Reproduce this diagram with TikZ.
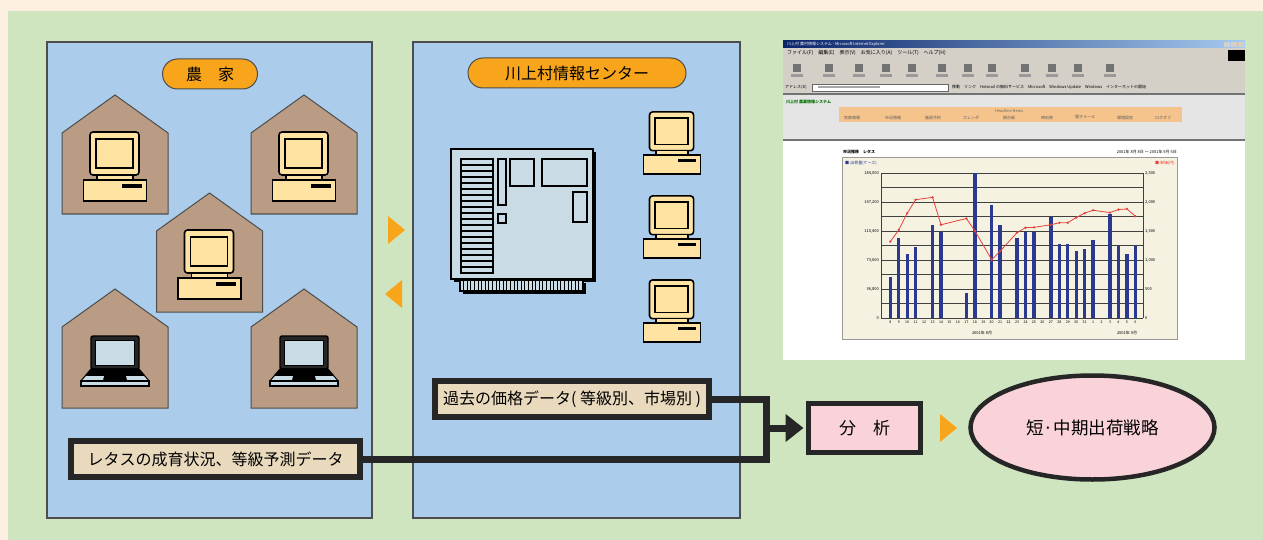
\documentclass[tikz,border=0pt]{standalone}
\usepackage{fontspec}
\setmainfont{Noto Sans CJK JP}
\usetikzlibrary{arrows.meta,shapes.geometric,positioning}

\definecolor{bgpeach}{HTML}{FDF0E0}
\definecolor{bggreen}{HTML}{CFE5C0}
\definecolor{panelblue}{HTML}{ABCDEB}
\definecolor{tagorange}{HTML}{F9A51B}
\definecolor{housebrown}{HTML}{B99C83}
\definecolor{pcyellow}{HTML}{FFE3A2}
\definecolor{screenblue}{HTML}{C9DCE6}
\definecolor{databeige}{HTML}{E9DABE}
\definecolor{resultpink}{HTML}{FAD3DA}
\definecolor{edgegray}{HTML}{4D4D4D}
\definecolor{barnavy}{HTML}{2B3990}
\definecolor{linered}{HTML}{E8403A}
\definecolor{winnavy}{HTML}{0A246A}
\definecolor{winsky}{HTML}{A6CAF0}
\definecolor{wingray}{HTML}{D4D0C8}
\definecolor{menuorange}{HTML}{F5C48D}
\definecolor{chartbg}{HTML}{F5F2E1}

\tikzstyle{panel}=[draw=edgegray,line width=1.2pt,fill=panelblue]
\tikzstyle{tag}=[draw=edgegray,line width=1pt,fill=tagorange,rounded corners=15pt,minimum height=30pt,inner sep=0pt,font=\fontsize{16}{18}\selectfont]
\tikzstyle{databox}=[rectangle,draw=black!85,line width=6pt,fill=databeige,inner sep=0pt,minimum height=36pt,font=\fontsize{16}{18}\selectfont]
\tikzstyle{resultbox}=[rectangle,draw=black!85,line width=5pt,fill=resultpink,inner sep=0pt,font=\fontsize{17}{19}\selectfont]
\tikzstyle{link}=[line width=7pt,draw=black!85,line join=miter]
\tikzstyle{housewall}=[draw=edgegray,line width=1pt,fill=housebrown]
\tikzstyle{pcpart}=[draw=black,line width=1.6pt,fill=pcyellow]
\tikzstyle{serverpart}=[draw=black,line width=1.6pt,fill=screenblue]
\tikzstyle{pointer}=[fill=tagorange]
\tikzstyle{smalltext}=[inner sep=0pt,font=\fontsize{4}{5}\selectfont]
\tikzstyle{gridline}=[draw=black!75,line width=0.6pt]

\tikzset{
  house/.pic={
    \draw[housewall] (-53,0) -- (-53,-81) -- (0,-119) -- (53,-81) -- (53,0) -- cycle;
  },
  desktop/.pic={
    \draw[pcpart,rounded corners=3pt] (-25,-34.5) rectangle (24,8.5);
    \draw[pcpart] (-19,-27.5) rectangle (18,1.5);
    \draw[pcpart] (-18,8.5) rectangle (18,13.5);
    \draw[pcpart] (-31.5,13.5) rectangle (31.5,34.5);
    \fill (6.5,17.5) rectangle (26.5,21.5);
  },
  laptop/.pic={
    \draw[line width=1.4pt,fill=black!85,rounded corners=2pt] (-24,-25) rectangle (24,8);
    \draw[line width=0.6pt,fill=screenblue] (-19.5,-21) rectangle (19.5,4);
    \draw[line width=1.2pt,fill=black,line join=round] (-24,8) -- (24,8) -- (34,20) -- (-34,20) -- cycle;
    \fill[screenblue] (-29,15) -- (-11,15) -- (-12,19) -- (-32.5,19) -- cycle;
    \fill[screenblue] (11,15) -- (29,15) -- (32.5,19) -- (12,19) -- cycle;
    \draw[line width=1.2pt,fill=screenblue] (-34,20) rectangle (34,25);
  }
}

\begin{document}
\begin{tikzpicture}[x=1pt,y=-1pt]
  \useasboundingbox (0,0) rectangle (1263,540);
  \fill[bgpeach] (0,0) rectangle (1263,540);
  \fill[bggreen] (8,11) rectangle (1263,540);

  % two panels
  \draw[panel] (47,42) rectangle (372,518);
  \draw[panel] (413,42) rectangle (740,518);
  \node[tag,minimum width=95pt] (farmtag) at (210,74) {農\hspace{1em}家};
  \node[tag,minimum width=218pt] (centertag) at (577,73) {川上村情報センター};

  % farm houses
  \pic at (115,214) {house};
  \pic at (304,214) {house};
  \pic at (209.5,312) {house};
  \pic at (115,408) {house};
  \pic at (304,408) {house};
  \pic at (115,166.5) {desktop};
  \pic at (304,166.5) {desktop};
  \pic at (209.5,264.5) {desktop};
  \pic at (115,361) {laptop};
  \pic at (304,361) {laptop};

  % server
  \fill[black] (454,152) rectangle (596,282);
  \draw[serverpart] (451,149) rectangle (593,279);
  \fill[black] (463,283) rectangle (586,294);
  \draw[serverpart] (460,280) rectangle (583,291);
  \foreach \k in {1,...,33}
    \draw[line width=0.8pt] (460+3.6*\k,280) -- (460+3.6*\k,291);
  \draw[serverpart] (461,159) rectangle (493,273);
  \foreach \k in {1,...,18}
    \draw[line width=1.6pt] (461,159+6*\k) -- (493,159+6*\k);
  \draw[serverpart] (498,159) rectangle (506,205);
  \draw[serverpart] (498,214) rectangle (506,223);
  \draw[serverpart] (510,159) rectangle (534,186);
  \draw[serverpart] (542,159) rectangle (587,186);
  \draw[serverpart] (573,192) rectangle (587,222);

  % terminals at the center
  \pic[scale=0.9] at (672,143) {desktop};
  \pic[scale=0.9] at (672,227) {desktop};
  \pic[scale=0.9] at (672,311) {desktop};

  % exchange between farms and center
  \fill[pointer] (388,216) -- (405,230) -- (388,244) -- cycle;
  \fill[pointer] (402,280) -- (385,294) -- (402,308) -- cycle;

  % browser screen
  \fill[white] (783,41) rectangle (1245,360);
  \shade[left color=winnavy,right color=winsky] (783,41) rectangle (1245,48);
  \node[smalltext,white,anchor=west] (wintitle) at (787,44.5) {川上村 農村情報システム - Microsoft Internet Explorer};
  \foreach \bx in {1224,1231,1238}
    \fill[wingray] (\bx,42.5) rectangle (\bx+6,47);
  \fill[wingray] (783,48) rectangle (1245,93);
  \node[smalltext,anchor=west,font=\fontsize{5}{6}\selectfont] (menubar) at (787,53)
    {ファイル(F)\quad 編集(E)\quad 表示(V)\quad お気に入り(A)\quad ツール(T)\quad ヘルプ(H)};
  \fill[black] (1228,50) rectangle (1245,61);
  \foreach \ix in {797,829,859,886,912,942,968,992,1025,1052,1078,1110} {
    \fill[black!55] (\ix-4,64) rectangle (\ix+4,72);
    \fill[black!40] (\ix-6,74) rectangle (\ix+6,77);
  }
  \node[smalltext,anchor=west] (addrlabel) at (785,87) {アドレス(D)};
  \fill[white] (812,84) rectangle (948,91);
  \draw[black!60,line width=0.4pt] (812,84) rectangle (948,91);
  \fill[black!35] (818,86.5) rectangle (880,88.5);
  \node[smalltext,anchor=west] (links) at (952,87)
    {移動\quad リンク\quad Hotmail の無料サービス\quad Microsoft\quad Windows Update\quad Windows\quad インターネットの開始};
  \fill[black!55] (783,93) rectangle (1245,95);
  \fill[black!10] (783,95) rectangle (1245,139);
  \node[smalltext,anchor=west,text=green!45!black] (sysname) at (786,102) {\bfseries 川上村 農業情報システム};
  \fill[menuorange] (839,107) rectangle (1182,122);
  \node[smalltext,text=black!60] (headline) at (1009,110.5) {Headline News};
  \foreach \mx/\mt in {852/気象情報,893/市況情報,933/施設予約,971/カレンダ,1009/掲示板,1047/時刻表,1085/電子メール,1125/環境設定,1163/ログオフ}
    \node[smalltext,text=black!65] at (\mx,117.5) {\mt};
  \fill[black!55] (783,139) rectangle (1245,141);

  % price and shipment chart
  \node[smalltext,anchor=west] (charttitle) at (843,152) {\bfseries 市況推移\quad レタス};
  \node[smalltext,anchor=east] (chartdate) at (1177,152) {2001年 8月 8日 〜 2001年 9月 6日};
  \draw[fill=chartbg,draw=black!40,line width=0.8pt] (842,157) rectangle (1177,339);
  \node[smalltext,anchor=west,text=barnavy] (leftkey) at (845,163) {■:出荷量(ケース)};
  \node[smalltext,anchor=east,text=linered] (rightkey) at (1175,163) {■:単価(円)};
  \foreach \k in {0,...,10}
    \draw[gridline] (881,173+14.5*\k) -- (1143,173+14.5*\k);
  \draw[gridline] (881,173) -- (881,318);
  \draw[gridline] (1143,173) -- (1143,318);
  \foreach \k/\lv/\rv in {0/{184,000}/{2,500},1/{147,200}/{2,000},2/{110,400}/{1,500},3/{73,600}/{1,000},4/{36,800}/{500},5/{0}/{0}} {
    \node[smalltext,anchor=east] at (879,173+29*\k) {\lv};
    \node[smalltext,anchor=west] at (1145,173+29*\k) {\rv};
  }
  \foreach \d [count=\i from 0] in {8,...,31,1,2,3,4,5,6}
    \node[smalltext,font=\fontsize{3.6}{4}\selectfont] at (890.3+8.45*\i,322.5) {\d};
  \node[smalltext] (augmonth) at (982,333) {2001年 8月};
  \node[smalltext] (sepmonth) at (1127,333) {2001年 9月};
  \foreach \i/\f in {0/0.28,1/0.55,2/0.44,3/0.49,5/0.64,6/0.59,9/0.175,10/1.0,12/0.78,13/0.64,15/0.55,16/0.59,17/0.59,19/0.70,20/0.51,21/0.51,22/0.46,23/0.475,24/0.54,26/0.72,27/0.50,28/0.44,29/0.50}
    \fill[barnavy] (888.6+8.45*\i,318) rectangle (892+8.45*\i,318-145*\f);
  \draw[linered,line width=0.8pt] (890.3,241.6)
    \foreach \i/\f in {1/0.607,2/0.723,3/0.816,5/0.832,6/0.643,9/0.686,10/0.602,12/0.402,13/0.461,15/0.589,16/0.623,17/0.625,19/0.643,20/0.657,21/0.657,22/0.693,23/0.723,24/0.743,26/0.727,27/0.748,28/0.752,29/0.702}
      { -- (890.3+8.45*\i,318-145*\f) };
  \foreach \i/\f in {0/0.527,1/0.607,2/0.723,3/0.816,5/0.832,6/0.643,9/0.686,10/0.602,12/0.402,13/0.461,15/0.589,16/0.623,17/0.625,19/0.643,20/0.657,21/0.657,22/0.693,23/0.723,24/0.743,26/0.727,27/0.748,28/0.752,29/0.702}
    \fill[linered] (890.3+8.45*\i,318-145*\f) circle (1.3);

  % data flow to the analysis
  \node[databox,minimum width=289pt] (growth) at (215.5,459) {レタスの成育状況、等級予測データ};
  \node[databox,minimum width=274pt] (past) at (572,399) {過去の価格データ( 等級別、市場別 )};
  \node[resultbox,minimum width=112pt,minimum height=49pt] (analysis) at (864.5,428) {分\hspace{1em}析};
  \node[ellipse,draw=black!85,line width=4.5pt,fill=resultpink,inner sep=0pt,
        minimum width=244pt,minimum height=104pt,font=\fontsize{17.5}{19}\selectfont] (strategy) at (1092.5,427.5) {短·中期出荷戦略};
  \coordinate (merge) at (766,428);
  \draw[link] (past.east) -| (merge) |- (growth.east);
  \draw[link,-{Triangle[length=18pt,width=27pt]},shorten >=2.5pt] (merge) -- (analysis.west);
  \fill[pointer] (940,414) -- (957,428) -- (940,442) -- cycle;
\end{tikzpicture}
\end{document}
